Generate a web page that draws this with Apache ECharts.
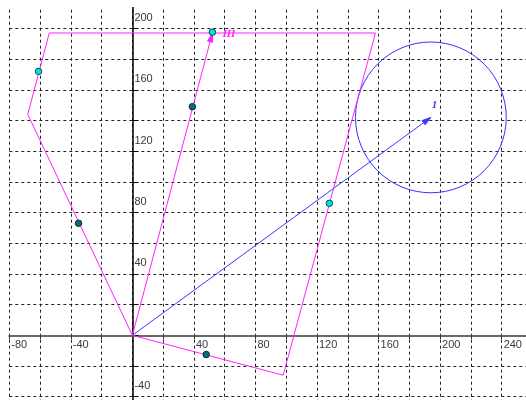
<!DOCTYPE html>
<html>
<head>
<meta charset="utf-8">
<script src="https://cdn.jsdelivr.net/npm/echarts@6/dist/echarts.min.js"></script>
<style>html,body{margin:0;padding:0;background:#fff}#c{width:526px;height:400px}</style>
</head>
<body>
<div id="c"></div>
<script>
// ---- data ----
var polygonX = [0, -68, -54, 158, 98, 0];
var polygonY = [0, 144, 197, 197, -26, 0];
var vectorIII = [0, 0, 52, 197];
var vector1 = [0, 0, 194, 142];
var circleCenterRadius = [194, 142, 49];
var cyanPointsX = [-61, 52, 128];
var cyanPointsY = [172, 197.5, 86];
var tealPointsX = [-35, 39, 48];
var tealPointsY = [73, 149, -12.5];
var xTickLabels = [-80, -40, 40, 80, 120, 160, 200, 240];
var yTickLabels = [-40, 40, 80, 120, 160, 200];

var polygonData = polygonX.map(function (x, i) { return [x, polygonY[i]]; });
var cyanData = cyanPointsX.map(function (x, i) { return [x, cyanPointsY[i]]; });
var tealData = tealPointsX.map(function (x, i) { return [x, tealPointsY[i]]; });

// layout
var W = 526, H = 400;
var G = { left: 9.3, right: -6.4, top: -2.3, bottom: -27.4 };
var XMIN = -80, XMAX = 260, YMIN = -60, YMAX = 220;
var gw = W - G.left - G.right, gh = H - G.top - G.bottom;
var yAxisOffset = -(0 - XMIN) / (XMAX - XMIN) * gw;   // move y axis to x = 0
var xAxisOffset = -(0 - YMIN) / (YMAX - YMIN) * gh;   // move x axis to y = 0

function vectorRenderer(color, name, lx, ly) {
  return function (params, api) {
    var p0 = api.coord([api.value(0), api.value(1)]);
    var p1 = api.coord([api.value(2), api.value(3)]);
    var dx = p1[0] - p0[0], dy = p1[1] - p0[1];
    var len = Math.sqrt(dx * dx + dy * dy), ux = dx / len, uy = dy / len;
    var L = 9, Wd = 2.6;
    var a = [p1[0] - ux * L - uy * Wd, p1[1] - uy * L + ux * Wd];
    var b = [p1[0] - ux * L + uy * Wd, p1[1] - uy * L - ux * Wd];
    return {
      type: 'group',
      children: [
        { type: 'line', shape: { x1: p0[0], y1: p0[1], x2: p1[0], y2: p1[1] }, style: { stroke: color, lineWidth: 1 } },
        { type: 'polygon', shape: { points: [a, p1, b] }, style: { stroke: color, fill: color, lineWidth: 1 } },
        { type: 'text', style: { text: name, x: p1[0] + lx, y: p1[1] + ly, fill: color, font: 'italic bold 11px "Liberation Serif"', textAlign: 'left', textVerticalAlign: 'middle' } }
      ]
    };
  };
}

var gridLine = { show: true, lineStyle: { color: '#222', width: 1, type: [3, 3] } };

var option = {
  animation: false,
  backgroundColor: '#fff',
  grid: { left: G.left, right: G.right, top: G.top, bottom: G.bottom, containLabel: false, outerBoundsMode: 'none' },
  xAxis: {
    type: 'value', min: XMIN, max: XMAX, interval: 20, offset: xAxisOffset,
    axisLine: { onZero: false, lineStyle: { color: '#6a6a6a', width: 2 } },
    axisTick: { show: true, length: 4, lineStyle: { color: '#333', width: 1 } },
    splitLine: gridLine,
    minorTick: { show: false },
    minorSplitLine: { show: false },
    axisLabel: {
      margin: 4, align: 'left', padding: [0, 0, 0, 2],
      color: '#3a3a3a', fontFamily: 'Liberation Sans', fontSize: 11,
      showMinLabel: true, showMaxLabel: false, hideOverlap: false,
      formatter: function (v) { return xTickLabels.indexOf(v) >= 0 ? String(v) : ''; }
    }
  },
  yAxis: {
    type: 'value', min: YMIN, max: YMAX, interval: 20, offset: yAxisOffset,
    axisLine: { onZero: false, lineStyle: { color: '#000', width: 1.5 } },
    axisTick: { show: true, inside: true, length: 6, lineStyle: { color: '#000', width: 1 } },
    splitLine: gridLine,
    minorTick: { show: false },
    minorSplitLine: { show: false },
    axisLabel: {
      inside: true, margin: 2, align: 'left', verticalAlign: 'bottom', padding: [0, 0, 5, 0],
      color: '#3a3a3a', fontFamily: 'Liberation Sans', fontSize: 11,
      showMinLabel: false, showMaxLabel: false, hideOverlap: false,
      formatter: function (v) { return yTickLabels.indexOf(v) >= 0 ? String(v) : ''; }
    }
  },
  graphic: [
    { type: 'rect', z: 100, shape: { x: 0, y: 0, width: W, height: 7 }, style: { fill: '#fff' } }
  ],
  series: [
    {
      type: 'line', data: polygonData, symbol: 'none', smooth: false,
      lineStyle: { color: '#ff22ff', width: 1 }, z: 3
    },
    {
      type: 'custom', data: [vectorIII], renderItem: vectorRenderer('#ff22ff', 'III', 10, 1), z: 3,
      encode: { x: [0, 2], y: [1, 3] }
    },
    {
      type: 'custom', data: [vector1], renderItem: vectorRenderer('#3a3aff', '1', 1, -12), z: 3,
      encode: { x: [0, 2], y: [1, 3] }
    },
    {
      type: 'custom', data: [circleCenterRadius], z: 3,
      encode: { x: 0, y: 1 },
      renderItem: function (params, api) {
        var c = api.coord([api.value(0), api.value(1)]);
        var r = api.size([api.value(2), 0])[0];
        return { type: 'circle', shape: { cx: c[0], cy: c[1], r: r }, style: { stroke: '#3333ff', fill: null, lineWidth: 1 } };
      }
    },
    {
      type: 'scatter', data: cyanData, symbol: 'circle', symbolSize: 6.5, z: 5,
      itemStyle: { color: '#00e3e3', borderColor: '#0a4a4a', borderWidth: 1, opacity: 1 }
    },
    {
      type: 'scatter', data: tealData, symbol: 'circle', symbolSize: 6.5, z: 5,
      itemStyle: { color: '#0b6e6e', borderColor: '#043030', borderWidth: 1, opacity: 1 }
    }
  ]
};

var chart = echarts.init(document.getElementById('c'), null, { renderer: 'canvas' });
chart.setOption(option);
</script>
</body>
</html>
